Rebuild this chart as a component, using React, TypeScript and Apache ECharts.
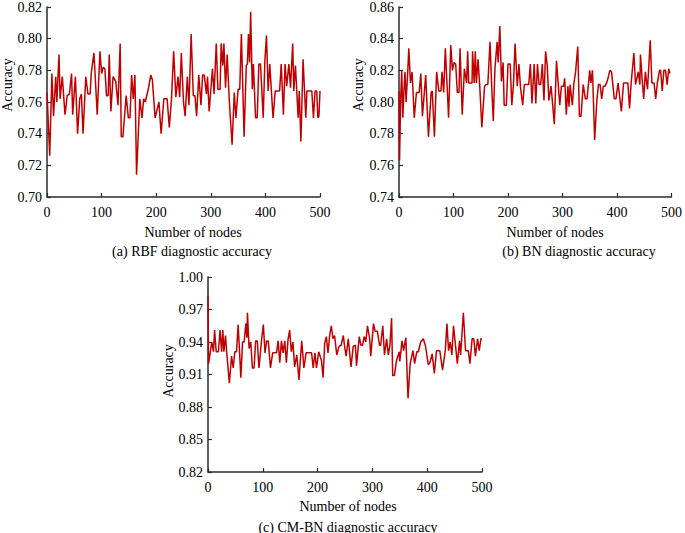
import React, { useEffect, useRef } from "react";
import * as echarts from "echarts";

const nodesA = [0,5,9,12,16,18,22,24,28,33,37,41,45,47,52,56,60,63,66,71,75,79,81,86,92,97,100,103,106,109,112,114,117,121,126,130,134,136,139,145,149,152,155,158,161,164,170,174,177,180,186,190,193,198,205,209,214,220,224,228,232,236,240,243,246,250,253,257,260,264,268,271,274,278,282,285,288,292,294,297,303,306,310,313,317,319,322,324,327,330,334,339,343,346,350,353,356,361,365,367,369,371,373,376,378,382,385,388,391,396,399,402,405,408,414,418,426,429,433,436,439,443,446,450,452,455,460,462,465,469,474,476,485,488,491,494,496,498,500];
const accA = [0.766,0.726,0.778,0.751,0.776,0.760,0.790,0.762,0.776,0.752,0.764,0.765,0.778,0.752,0.776,0.740,0.762,0.765,0.740,0.776,0.765,0.765,0.778,0.791,0.752,0.792,0.778,0.782,0.781,0.764,0.764,0.790,0.754,0.776,0.773,0.758,0.797,0.738,0.738,0.764,0.750,0.750,0.777,0.762,0.777,0.714,0.762,0.750,0.762,0.760,0.769,0.777,0.774,0.750,0.760,0.740,0.762,0.762,0.744,0.762,0.792,0.763,0.776,0.763,0.791,0.760,0.751,0.776,0.758,0.803,0.764,0.764,0.751,0.777,0.758,0.777,0.777,0.765,0.776,0.754,0.781,0.765,0.797,0.768,0.768,0.797,0.783,0.797,0.769,0.790,0.760,0.733,0.766,0.750,0.768,0.768,0.803,0.738,0.783,0.784,0.803,0.785,0.817,0.768,0.784,0.750,0.750,0.784,0.784,0.750,0.786,0.802,0.767,0.784,0.750,0.767,0.767,0.784,0.752,0.784,0.770,0.784,0.769,0.797,0.767,0.783,0.750,0.767,0.735,0.787,0.750,0.767,0.767,0.750,0.767,0.767,0.750,0.751,0.767];

const nodesB = [0,1,3,5,7,9,11,13,16,18,21,24,28,32,37,40,43,49,54,59,61,65,69,73,77,79,82,85,91,95,98,101,104,107,110,112,116,120,124,126,128,134,135,138,140,142,145,148,152,157,160,163,167,170,173,176,180,182,185,188,191,193,197,200,204,207,210,213,217,220,223,227,230,238,241,244,248,251,254,257,260,263,266,269,272,275,279,285,289,295,298,302,304,307,310,312,314,318,321,324,328,331,334,338,342,345,350,352,355,359,363,366,369,372,375,378,382,387,390,395,398,402,408,412,420,423,426,431,434,439,442,443,446,449,452,456,461,464,468,471,474,478,480,483,486,489,492,495,497];
const accB = [0.807,0.763,0.801,0.820,0.790,0.807,0.819,0.800,0.819,0.834,0.812,0.819,0.790,0.806,0.806,0.818,0.791,0.817,0.778,0.806,0.807,0.778,0.819,0.807,0.807,0.819,0.806,0.834,0.790,0.836,0.820,0.825,0.824,0.806,0.806,0.834,0.792,0.821,0.812,0.832,0.812,0.812,0.832,0.812,0.832,0.812,0.827,0.811,0.784,0.810,0.811,0.811,0.838,0.811,0.788,0.821,0.838,0.825,0.848,0.813,0.825,0.798,0.798,0.824,0.824,0.798,0.811,0.837,0.810,0.824,0.809,0.798,0.811,0.811,0.824,0.799,0.824,0.799,0.824,0.811,0.811,0.824,0.801,0.832,0.823,0.801,0.810,0.786,0.826,0.798,0.810,0.810,0.815,0.792,0.810,0.797,0.811,0.798,0.812,0.819,0.835,0.791,0.791,0.811,0.802,0.802,0.820,0.812,0.820,0.776,0.801,0.811,0.811,0.802,0.810,0.810,0.813,0.820,0.819,0.802,0.802,0.812,0.794,0.812,0.812,0.796,0.812,0.831,0.811,0.819,0.811,0.830,0.815,0.802,0.819,0.808,0.839,0.812,0.812,0.802,0.812,0.820,0.820,0.807,0.820,0.820,0.811,0.821,0.818];

const nodesC = [0,1,4,7,10,12,15,19,22,25,27,29,32,34,39,43,46,49,52,55,60,63,66,69,71,72,75,78,81,84,87,90,93,98,101,104,107,110,114,118,125,128,131,134,137,140,143,146,149,152,155,158,162,166,171,175,179,186,189,192,195,198,202,207,210,213,216,219,222,225,228,231,235,239,243,247,249,252,256,261,265,269,271,276,279,282,285,288,291,295,297,302,305,309,313,315,319,322,326,329,332,335,337,340,344,349,350,354,357,361,365,369,374,377,381,384,388,393,397,402,405,409,413,417,423,428,433,436,439,442,445,448,451,455,459,461,466,470,475,478,482,485,488,492,495,498,500];
const accC = [0.983,0.920,0.930,0.940,0.931,0.951,0.931,0.931,0.951,0.931,0.951,0.931,0.946,0.931,0.902,0.927,0.916,0.931,0.931,0.956,0.907,0.940,0.940,0.957,0.944,0.967,0.934,0.940,0.916,0.916,0.941,0.941,0.916,0.943,0.956,0.930,0.941,0.941,0.916,0.930,0.930,0.941,0.921,0.941,0.930,0.941,0.921,0.942,0.951,0.931,0.940,0.917,0.928,0.905,0.941,0.916,0.930,0.930,0.930,0.916,0.930,0.916,0.931,0.923,0.907,0.939,0.945,0.930,0.946,0.955,0.943,0.946,0.928,0.936,0.937,0.946,0.937,0.927,0.943,0.917,0.936,0.937,0.918,0.945,0.937,0.937,0.945,0.940,0.955,0.943,0.927,0.957,0.950,0.950,0.937,0.937,0.955,0.928,0.943,0.928,0.937,0.962,0.909,0.909,0.923,0.931,0.922,0.941,0.932,0.944,0.888,0.920,0.932,0.920,0.931,0.931,0.940,0.943,0.936,0.919,0.921,0.929,0.911,0.932,0.932,0.914,0.932,0.957,0.932,0.940,0.928,0.955,0.940,0.920,0.941,0.928,0.967,0.932,0.932,0.920,0.943,0.943,0.927,0.943,0.932,0.943,0.943];

const xTicks = [0, 100, 200, 300, 400, 500];
const yTicksA = [0.70, 0.72, 0.74, 0.76, 0.78, 0.80, 0.82];
const yTicksB = [0.74, 0.76, 0.78, 0.80, 0.82, 0.84, 0.86];
const yTicksC = [0.82, 0.85, 0.88, 0.91, 0.94, 0.97, 1.00];

const xName = "Number of nodes";
const yName = "Accuracy";
const captions = ["(a) RBF diagnostic accuracy", "(b) BN diagnostic accuracy", "(c) CM-BN diagnostic accuracy"];

const FONT = '"Liberation Serif", "Times New Roman", serif';
const AXIS_COLOR = "#2b2b2b";
const LINE_COLOR = "#c00000";

export default function App() {
  const ref = useRef<HTMLDivElement>(null);
  useEffect(() => {
    document.body.style.margin = "0";
    if (!ref.current) return;
    const chart = echarts.init(ref.current, undefined, { renderer: "svg" });

    const grids = [
      { left: 47, top: 5, width: 273, height: 192 },
      { left: 399, top: 5, width: 274, height: 192 },
      { left: 208, top: 277, width: 274, height: 195 },
    ];
    const yTicks = [yTicksA, yTicksB, yTicksC];
    const datasets = [
      nodesA.map((n, i) => [n, accA[i]]),
      nodesB.map((n, i) => [n, accB[i]]),
      nodesC.map((n, i) => [n, accC[i]]),
    ];

    const xAxes = grids.map((_, i) => ({
      type: "value",
      gridIndex: i,
      min: 0,
      max: 500,
      interval: 100,
      axisLine: { show: true, lineStyle: { color: AXIS_COLOR, width: 1.5 } },
      axisTick: { show: true, inside: true, length: 4, lineStyle: { color: AXIS_COLOR, width: 1.2 } },
      axisLabel: { color: "#000", fontFamily: FONT, fontSize: 14, margin: 8, customValues: xTicks },
      splitLine: { show: false },
    }));
    const yAxes = grids.map((_, i) => ({
      type: "value",
      gridIndex: i,
      min: yTicks[i][0],
      max: yTicks[i][yTicks[i].length - 1],
      axisLine: { show: true, lineStyle: { color: AXIS_COLOR, width: 1.5 } },
      axisTick: { show: true, inside: true, length: 4, customValues: yTicks[i], lineStyle: { color: AXIS_COLOR, width: 1.2 } },
      axisLabel: {
        color: "#000",
        fontFamily: FONT,
        fontSize: 14,
        margin: 5,
        customValues: yTicks[i],
        formatter: (v: number) => v.toFixed(2),
      },
      splitLine: { show: false },
    }));
    const series = datasets.map((d, i) => ({
      type: "line",
      xAxisIndex: i,
      yAxisIndex: i,
      data: d,
      showSymbol: false,
      symbol: "none",
      lineStyle: { color: LINE_COLOR, width: 1.5 },
    }));

    const textStyle = (text: string) => ({
      text,
      fill: "#000",
      font: `14px ${FONT}`,
      textAlign: "center",
      textVerticalAlign: "middle",
    });
    const xNamePos = [[193, 232], [555, 232], [348, 506]];
    const captionPos = [[192, 251], [579, 251], [348, 527]];
    const yNamePos = [[7, 85], [358, 85], [168, 371]];
    const graphic: any[] = [];
    for (let i = 0; i < 3; i++) {
      graphic.push({ type: "text", x: xNamePos[i][0], y: xNamePos[i][1], style: textStyle(xName) });
      graphic.push({ type: "text", x: captionPos[i][0], y: captionPos[i][1], style: textStyle(captions[i]) });
      graphic.push({ type: "text", x: yNamePos[i][0], y: yNamePos[i][1], rotation: Math.PI / 2, style: textStyle(yName) });
    }

    chart.setOption({
      animation: false,
      backgroundColor: "#fff",
      grid: grids,
      xAxis: xAxes,
      yAxis: yAxes,
      series,
      graphic,
    } as any);
    return () => chart.dispose();
  }, []);
  return <div ref={ref} style={{ width: 685, height: 533 }} />;
}
